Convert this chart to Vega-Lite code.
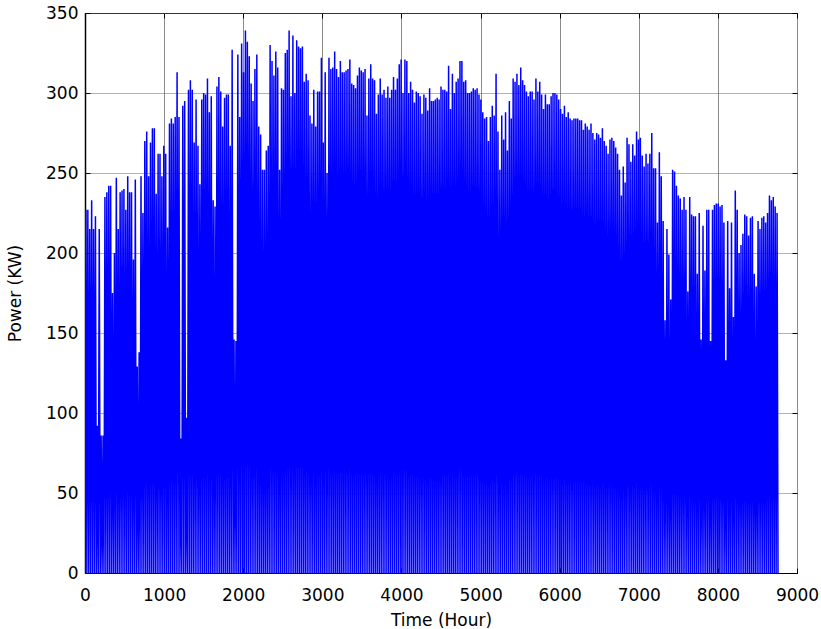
{
"$schema":"https://vega.github.io/schema/vega-lite/v6.json",
"width":712,"height":560,
"autosize":{"type":"none"},
"padding":{"left":85,"top":13,"right":24,"bottom":56},
"background":"white",
"config":{"view":{"stroke":"black","strokeWidth":1},"font":"DejaVu Sans",
"axis":{"labelFont":"DejaVu Sans","labelFontSize":17,"labelColor":"black","titleFont":"DejaVu Sans","titleFontSize":17,"titleFontWeight":"normal","titleColor":"black","tickColor":"black","domainColor":"black","zindex":1,"format":"d","labelFlush":false,"labelOverlap":false}},
"data":{"values":[
{"h":0,"p":0},{"h":12,"p":227},{"h":24,"p":0},{"h":36,"p":227},{"h":48,"p":0},{"h":60,"p":215},{"h":72,"p":0},{"h":84,"p":233},{"h":96,"p":0},{"h":108,"p":215},{"h":120,"p":0},{"h":132,"p":223},{"h":144,"p":0},{"h":156,"p":92},{"h":168,"p":0},{"h":180,"p":215},{"h":192,"p":0},{"h":204,"p":86},{"h":216,"p":0},{"h":228,"p":86},
{"h":240,"p":0},{"h":252,"p":235},{"h":264,"p":0},{"h":276,"p":238},{"h":288,"p":0},{"h":300,"p":242},{"h":312,"p":0},{"h":324,"p":242},{"h":336,"p":0},{"h":348,"p":175},{"h":360,"p":0},{"h":372,"p":200},{"h":384,"p":0},{"h":396,"p":247},{"h":408,"p":0},{"h":420,"p":215},{"h":432,"p":0},{"h":444,"p":238},{"h":456,"p":0},{"h":468,"p":239},
{"h":480,"p":0},{"h":492,"p":240},{"h":504,"p":0},{"h":516,"p":227},{"h":528,"p":0},{"h":540,"p":248},{"h":552,"p":0},{"h":564,"p":238},{"h":576,"p":0},{"h":588,"p":238},{"h":600,"p":0},{"h":612,"p":196},{"h":624,"p":0},{"h":636,"p":246},{"h":648,"p":0},{"h":660,"p":129},{"h":672,"p":0},{"h":684,"p":138},{"h":696,"p":0},{"h":708,"p":248},
{"h":720,"p":0},{"h":732,"p":225},{"h":744,"p":0},{"h":756,"p":270},{"h":768,"p":0},{"h":780,"p":276},{"h":792,"p":0},{"h":804,"p":248},{"h":816,"p":0},{"h":828,"p":269},{"h":840,"p":0},{"h":852,"p":278},{"h":864,"p":0},{"h":876,"p":278},{"h":888,"p":0},{"h":900,"p":237},{"h":912,"p":0},{"h":924,"p":262},{"h":936,"p":0},{"h":948,"p":262},
{"h":960,"p":0},{"h":972,"p":248},{"h":984,"p":0},{"h":996,"p":267},{"h":1008,"p":0},{"h":1020,"p":262},{"h":1032,"p":0},{"h":1044,"p":216},{"h":1056,"p":0},{"h":1068,"p":281},{"h":1080,"p":0},{"h":1092,"p":284},{"h":1104,"p":0},{"h":1116,"p":281},{"h":1128,"p":0},{"h":1140,"p":285},{"h":1152,"p":0},{"h":1164,"p":313},{"h":1176,"p":0},{"h":1188,"p":285},
{"h":1200,"p":0},{"h":1212,"p":84},{"h":1224,"p":0},{"h":1236,"p":292},{"h":1248,"p":0},{"h":1260,"p":295},{"h":1272,"p":0},{"h":1284,"p":97},{"h":1296,"p":0},{"h":1308,"p":302},{"h":1320,"p":0},{"h":1332,"p":308},{"h":1344,"p":0},{"h":1356,"p":302},{"h":1368,"p":0},{"h":1380,"p":269},{"h":1392,"p":0},{"h":1404,"p":296},{"h":1416,"p":0},{"h":1428,"p":267},
{"h":1440,"p":0},{"h":1452,"p":243},{"h":1464,"p":0},{"h":1476,"p":296},{"h":1488,"p":0},{"h":1500,"p":300},{"h":1512,"p":0},{"h":1524,"p":299},{"h":1536,"p":0},{"h":1548,"p":309},{"h":1560,"p":0},{"h":1572,"p":288},{"h":1584,"p":0},{"h":1596,"p":298},{"h":1608,"p":0},{"h":1620,"p":233},{"h":1632,"p":0},{"h":1644,"p":229},{"h":1656,"p":0},{"h":1668,"p":304},
{"h":1680,"p":0},{"h":1692,"p":310},{"h":1704,"p":0},{"h":1716,"p":301},{"h":1728,"p":0},{"h":1740,"p":279},{"h":1752,"p":0},{"h":1764,"p":297},{"h":1776,"p":0},{"h":1788,"p":299},{"h":1800,"p":0},{"h":1812,"p":299},{"h":1824,"p":0},{"h":1836,"p":267},{"h":1848,"p":0},{"h":1860,"p":327},{"h":1872,"p":0},{"h":1884,"p":146},{"h":1896,"p":0},{"h":1908,"p":145},
{"h":1920,"p":0},{"h":1932,"p":324},{"h":1944,"p":0},{"h":1956,"p":285},{"h":1968,"p":0},{"h":1980,"p":331},{"h":1992,"p":0},{"h":2004,"p":313},{"h":2016,"p":0},{"h":2028,"p":339},{"h":2040,"p":0},{"h":2052,"p":332},{"h":2064,"p":0},{"h":2076,"p":323},{"h":2088,"p":0},{"h":2100,"p":306},{"h":2112,"p":0},{"h":2124,"p":295},{"h":2136,"p":0},{"h":2148,"p":315},
{"h":2160,"p":0},{"h":2172,"p":324},{"h":2184,"p":0},{"h":2196,"p":279},{"h":2208,"p":0},{"h":2220,"p":274},{"h":2232,"p":0},{"h":2244,"p":252},{"h":2256,"p":0},{"h":2268,"p":252},{"h":2280,"p":0},{"h":2292,"p":264},{"h":2304,"p":0},{"h":2316,"p":267},{"h":2328,"p":0},{"h":2340,"p":330},{"h":2352,"p":0},{"h":2364,"p":320},{"h":2376,"p":0},{"h":2388,"p":311},
{"h":2400,"p":0},{"h":2412,"p":326},{"h":2424,"p":0},{"h":2436,"p":316},{"h":2448,"p":0},{"h":2460,"p":252},{"h":2472,"p":0},{"h":2484,"p":303},{"h":2496,"p":0},{"h":2508,"p":302},{"h":2520,"p":0},{"h":2532,"p":325},{"h":2544,"p":0},{"h":2556,"p":327},{"h":2568,"p":0},{"h":2580,"p":339},{"h":2592,"p":0},{"h":2604,"p":298},{"h":2616,"p":0},{"h":2628,"p":336},
{"h":2640,"p":0},{"h":2652,"p":300},{"h":2664,"p":0},{"h":2676,"p":333},{"h":2688,"p":0},{"h":2700,"p":329},{"h":2712,"p":0},{"h":2724,"p":328},{"h":2736,"p":0},{"h":2748,"p":329},{"h":2760,"p":0},{"h":2772,"p":307},{"h":2784,"p":0},{"h":2796,"p":312},{"h":2808,"p":0},{"h":2820,"p":308},{"h":2832,"p":0},{"h":2844,"p":286},{"h":2856,"p":0},{"h":2868,"p":281},
{"h":2880,"p":0},{"h":2892,"p":302},{"h":2904,"p":0},{"h":2916,"p":279},{"h":2928,"p":0},{"h":2940,"p":301},{"h":2952,"p":0},{"h":2964,"p":301},{"h":2976,"p":0},{"h":2988,"p":322},{"h":3000,"p":0},{"h":3012,"p":269},{"h":3024,"p":0},{"h":3036,"p":313},{"h":3048,"p":0},{"h":3060,"p":250},{"h":3072,"p":0},{"h":3084,"p":322},{"h":3096,"p":0},{"h":3108,"p":315},
{"h":3120,"p":0},{"h":3132,"p":316},{"h":3144,"p":0},{"h":3156,"p":326},{"h":3168,"p":0},{"h":3180,"p":315},{"h":3192,"p":0},{"h":3204,"p":310},{"h":3216,"p":0},{"h":3228,"p":320},{"h":3240,"p":0},{"h":3252,"p":313},{"h":3264,"p":0},{"h":3276,"p":313},{"h":3288,"p":0},{"h":3300,"p":314},{"h":3312,"p":0},{"h":3324,"p":315},{"h":3336,"p":0},{"h":3348,"p":321},
{"h":3360,"p":0},{"h":3372,"p":306},{"h":3384,"p":0},{"h":3396,"p":305},{"h":3408,"p":0},{"h":3420,"p":303},{"h":3432,"p":0},{"h":3444,"p":311},{"h":3456,"p":0},{"h":3468,"p":316},{"h":3480,"p":0},{"h":3492,"p":314},{"h":3504,"p":0},{"h":3516,"p":313},{"h":3528,"p":0},{"h":3540,"p":315},{"h":3552,"p":0},{"h":3564,"p":286},{"h":3576,"p":0},{"h":3588,"p":309},
{"h":3600,"p":0},{"h":3612,"p":318},{"h":3624,"p":0},{"h":3636,"p":309},{"h":3648,"p":0},{"h":3660,"p":308},{"h":3672,"p":0},{"h":3684,"p":287},{"h":3696,"p":0},{"h":3708,"p":299},{"h":3720,"p":0},{"h":3732,"p":309},{"h":3744,"p":0},{"h":3756,"p":299},{"h":3768,"p":0},{"h":3780,"p":302},{"h":3792,"p":0},{"h":3804,"p":297},{"h":3816,"p":0},{"h":3828,"p":304},
{"h":3840,"p":0},{"h":3852,"p":297},{"h":3864,"p":0},{"h":3876,"p":302},{"h":3888,"p":0},{"h":3900,"p":310},{"h":3912,"p":0},{"h":3924,"p":302},{"h":3936,"p":0},{"h":3948,"p":309},{"h":3960,"p":0},{"h":3972,"p":318},{"h":3984,"p":0},{"h":3996,"p":321},{"h":4008,"p":0},{"h":4020,"p":300},{"h":4032,"p":0},{"h":4044,"p":321},{"h":4056,"p":0},{"h":4068,"p":320},
{"h":4080,"p":0},{"h":4092,"p":300},{"h":4104,"p":0},{"h":4116,"p":307},{"h":4128,"p":0},{"h":4140,"p":302},{"h":4152,"p":0},{"h":4164,"p":294},{"h":4176,"p":0},{"h":4188,"p":301},{"h":4200,"p":0},{"h":4212,"p":300},{"h":4224,"p":0},{"h":4236,"p":298},{"h":4248,"p":0},{"h":4260,"p":287},{"h":4272,"p":0},{"h":4284,"p":299},{"h":4296,"p":0},{"h":4308,"p":297},
{"h":4320,"p":0},{"h":4332,"p":289},{"h":4344,"p":0},{"h":4356,"p":303},{"h":4368,"p":0},{"h":4380,"p":295},{"h":4392,"p":0},{"h":4404,"p":295},{"h":4416,"p":0},{"h":4428,"p":296},{"h":4440,"p":0},{"h":4452,"p":297},{"h":4464,"p":0},{"h":4476,"p":296},{"h":4488,"p":0},{"h":4500,"p":304},{"h":4512,"p":0},{"h":4524,"p":302},{"h":4536,"p":0},{"h":4548,"p":302},
{"h":4560,"p":0},{"h":4572,"p":301},{"h":4584,"p":0},{"h":4596,"p":317},{"h":4608,"p":0},{"h":4620,"p":290},{"h":4632,"p":0},{"h":4644,"p":312},{"h":4656,"p":0},{"h":4668,"p":300},{"h":4680,"p":0},{"h":4692,"p":307},{"h":4704,"p":0},{"h":4716,"p":309},{"h":4728,"p":0},{"h":4740,"p":320},{"h":4752,"p":0},{"h":4764,"p":320},{"h":4776,"p":0},{"h":4788,"p":307},
{"h":4800,"p":0},{"h":4812,"p":308},{"h":4824,"p":0},{"h":4836,"p":300},{"h":4848,"p":0},{"h":4860,"p":300},{"h":4872,"p":0},{"h":4884,"p":301},{"h":4896,"p":0},{"h":4908,"p":303},{"h":4920,"p":0},{"h":4932,"p":302},{"h":4944,"p":0},{"h":4956,"p":303},{"h":4968,"p":0},{"h":4980,"p":299},{"h":4992,"p":0},{"h":5004,"p":296},{"h":5016,"p":0},{"h":5028,"p":288},
{"h":5040,"p":0},{"h":5052,"p":284},{"h":5064,"p":0},{"h":5076,"p":285},{"h":5088,"p":0},{"h":5100,"p":270},{"h":5112,"p":0},{"h":5124,"p":285},{"h":5136,"p":0},{"h":5148,"p":292},{"h":5160,"p":0},{"h":5172,"p":286},{"h":5184,"p":0},{"h":5196,"p":312},{"h":5208,"p":0},{"h":5220,"p":276},{"h":5232,"p":0},{"h":5244,"p":252},{"h":5256,"p":0},{"h":5268,"p":286},
{"h":5280,"p":0},{"h":5292,"p":271},{"h":5304,"p":0},{"h":5316,"p":288},{"h":5328,"p":0},{"h":5340,"p":264},{"h":5352,"p":0},{"h":5364,"p":295},{"h":5376,"p":0},{"h":5388,"p":284},{"h":5400,"p":0},{"h":5412,"p":309},{"h":5424,"p":0},{"h":5436,"p":307},{"h":5448,"p":0},{"h":5460,"p":312},{"h":5472,"p":0},{"h":5484,"p":305},{"h":5496,"p":0},{"h":5508,"p":316},
{"h":5520,"p":0},{"h":5532,"p":308},{"h":5544,"p":0},{"h":5556,"p":305},{"h":5568,"p":0},{"h":5580,"p":301},{"h":5592,"p":0},{"h":5604,"p":298},{"h":5616,"p":0},{"h":5628,"p":301},{"h":5640,"p":0},{"h":5652,"p":301},{"h":5664,"p":0},{"h":5676,"p":296},{"h":5688,"p":0},{"h":5700,"p":309},{"h":5712,"p":0},{"h":5724,"p":301},{"h":5736,"p":0},{"h":5748,"p":307},
{"h":5760,"p":0},{"h":5772,"p":299},{"h":5784,"p":0},{"h":5796,"p":290},{"h":5808,"p":0},{"h":5820,"p":299},{"h":5832,"p":0},{"h":5844,"p":293},{"h":5856,"p":0},{"h":5868,"p":293},{"h":5880,"p":0},{"h":5892,"p":298},{"h":5904,"p":0},{"h":5916,"p":300},{"h":5928,"p":0},{"h":5940,"p":300},{"h":5952,"p":0},{"h":5964,"p":299},{"h":5976,"p":0},{"h":5988,"p":296},
{"h":6000,"p":0},{"h":6012,"p":290},{"h":6024,"p":0},{"h":6036,"p":287},{"h":6048,"p":0},{"h":6060,"p":292},{"h":6072,"p":0},{"h":6084,"p":285},{"h":6096,"p":0},{"h":6108,"p":288},{"h":6120,"p":0},{"h":6132,"p":284},{"h":6144,"p":0},{"h":6156,"p":283},{"h":6168,"p":0},{"h":6180,"p":284},{"h":6192,"p":0},{"h":6204,"p":284},{"h":6216,"p":0},{"h":6228,"p":284},
{"h":6240,"p":0},{"h":6252,"p":283},{"h":6264,"p":0},{"h":6276,"p":283},{"h":6288,"p":0},{"h":6300,"p":277},{"h":6312,"p":0},{"h":6324,"p":281},{"h":6336,"p":0},{"h":6348,"p":279},{"h":6360,"p":0},{"h":6372,"p":277},{"h":6384,"p":0},{"h":6396,"p":281},{"h":6408,"p":0},{"h":6420,"p":275},{"h":6432,"p":0},{"h":6444,"p":271},{"h":6456,"p":0},{"h":6468,"p":275},
{"h":6480,"p":0},{"h":6492,"p":274},{"h":6504,"p":0},{"h":6516,"p":272},{"h":6528,"p":0},{"h":6540,"p":278},{"h":6552,"p":0},{"h":6564,"p":270},{"h":6576,"p":0},{"h":6588,"p":267},{"h":6600,"p":0},{"h":6612,"p":262},{"h":6624,"p":0},{"h":6636,"p":271},{"h":6648,"p":0},{"h":6660,"p":272},{"h":6672,"p":0},{"h":6684,"p":270},{"h":6696,"p":0},{"h":6708,"p":266},
{"h":6720,"p":0},{"h":6732,"p":262},{"h":6744,"p":0},{"h":6756,"p":252},{"h":6768,"p":0},{"h":6780,"p":236},{"h":6792,"p":0},{"h":6804,"p":254},{"h":6816,"p":0},{"h":6828,"p":244},{"h":6840,"p":0},{"h":6852,"p":272},{"h":6864,"p":0},{"h":6876,"p":268},{"h":6888,"p":0},{"h":6900,"p":257},{"h":6912,"p":0},{"h":6924,"p":268},{"h":6936,"p":0},{"h":6948,"p":261},
{"h":6960,"p":0},{"h":6972,"p":276},{"h":6984,"p":0},{"h":6996,"p":271},{"h":7008,"p":0},{"h":7020,"p":272},{"h":7032,"p":0},{"h":7044,"p":261},{"h":7056,"p":0},{"h":7068,"p":254},{"h":7080,"p":0},{"h":7092,"p":262},{"h":7104,"p":0},{"h":7116,"p":256},{"h":7128,"p":0},{"h":7140,"p":262},{"h":7152,"p":0},{"h":7164,"p":275},{"h":7176,"p":0},{"h":7188,"p":253},
{"h":7200,"p":0},{"h":7212,"p":253},{"h":7224,"p":0},{"h":7236,"p":219},{"h":7248,"p":0},{"h":7260,"p":263},{"h":7272,"p":0},{"h":7284,"p":248},{"h":7296,"p":0},{"h":7308,"p":220},{"h":7320,"p":0},{"h":7332,"p":158},{"h":7344,"p":0},{"h":7356,"p":215},{"h":7368,"p":0},{"h":7380,"p":199},{"h":7392,"p":0},{"h":7404,"p":171},{"h":7416,"p":0},{"h":7428,"p":252},
{"h":7440,"p":0},{"h":7452,"p":251},{"h":7464,"p":0},{"h":7476,"p":242},{"h":7488,"p":0},{"h":7500,"p":236},{"h":7512,"p":0},{"h":7524,"p":234},{"h":7536,"p":0},{"h":7548,"p":227},{"h":7560,"p":0},{"h":7572,"p":235},{"h":7584,"p":0},{"h":7596,"p":227},{"h":7608,"p":0},{"h":7620,"p":176},{"h":7632,"p":0},{"h":7644,"p":235},{"h":7656,"p":0},{"h":7668,"p":224},
{"h":7680,"p":0},{"h":7692,"p":223},{"h":7704,"p":0},{"h":7716,"p":223},{"h":7728,"p":0},{"h":7740,"p":187},{"h":7752,"p":0},{"h":7764,"p":225},{"h":7776,"p":0},{"h":7788,"p":146},{"h":7800,"p":0},{"h":7812,"p":217},{"h":7824,"p":0},{"h":7836,"p":189},{"h":7848,"p":0},{"h":7860,"p":227},{"h":7872,"p":0},{"h":7884,"p":227},{"h":7896,"p":0},{"h":7908,"p":145},
{"h":7920,"p":0},{"h":7932,"p":227},{"h":7944,"p":0},{"h":7956,"p":230},{"h":7968,"p":0},{"h":7980,"p":231},{"h":7992,"p":0},{"h":8004,"p":231},{"h":8016,"p":0},{"h":8028,"p":229},{"h":8040,"p":0},{"h":8052,"p":230},{"h":8064,"p":0},{"h":8076,"p":219},{"h":8088,"p":0},{"h":8100,"p":133},{"h":8112,"p":0},{"h":8124,"p":220},{"h":8136,"p":0},{"h":8148,"p":178},
{"h":8160,"p":0},{"h":8172,"p":219},{"h":8184,"p":0},{"h":8196,"p":160},{"h":8208,"p":0},{"h":8220,"p":239},{"h":8232,"p":0},{"h":8244,"p":227},{"h":8256,"p":0},{"h":8268,"p":200},{"h":8280,"p":0},{"h":8292,"p":205},{"h":8304,"p":0},{"h":8316,"p":212},{"h":8328,"p":0},{"h":8340,"p":224},{"h":8352,"p":0},{"h":8364,"p":223},{"h":8376,"p":0},{"h":8388,"p":211},
{"h":8400,"p":0},{"h":8412,"p":222},{"h":8424,"p":0},{"h":8436,"p":223},{"h":8448,"p":0},{"h":8460,"p":187},{"h":8472,"p":0},{"h":8484,"p":179},{"h":8496,"p":0},{"h":8508,"p":220},{"h":8520,"p":0},{"h":8532,"p":215},{"h":8544,"p":0},{"h":8556,"p":222},{"h":8568,"p":0},{"h":8580,"p":223},{"h":8592,"p":0},{"h":8604,"p":219},{"h":8616,"p":0},{"h":8628,"p":225},
{"h":8640,"p":0},{"h":8652,"p":236},{"h":8664,"p":0},{"h":8676,"p":233},{"h":8688,"p":0},{"h":8700,"p":235},{"h":8712,"p":0},{"h":8724,"p":229},{"h":8736,"p":0},{"h":8748,"p":225},{"h":8760,"p":0}
]},
"layer":[
{"mark":{"type":"line","color":"#0000ff","strokeWidth":1.5,"clip":true},
"encoding":{
"x":{"field":"h","type":"quantitative","scale":{"domain":[0,9000],"nice":false,"zero":false},
"axis":{"orient":"bottom","values":[0,1000,2000,3000,4000,5000,6000,7000,8000,9000],"tickSize":-5,"labelPadding":19,"title":"Time (Hour)","titlePadding":9,"grid":true,"gridColor":"#8c8c8c","gridWidth":1,"domain":true,"domainWidth":1}},
"y":{"field":"p","type":"quantitative","scale":{"domain":[0,350],"nice":false},
"axis":{"orient":"left","values":[0,50,100,150,200,250,300,350],"tickSize":-5,"labelPadding":12,"title":"Power (KW)","titlePadding":21,"grid":true,"gridColor":"#666666","gridDash":[1,1],"gridWidth":1,"domain":true,"domainWidth":1.5}}}},
{"mark":{"type":"line","opacity":0},
"encoding":{
"x":{"field":"h","type":"quantitative","scale":{"domain":[0,9000],"nice":false,"zero":false},
"axis":{"orient":"top","values":[0,1000,2000,3000,4000,5000,6000,7000,8000,9000],"tickSize":-5,"labels":false,"title":null,"grid":false,"domain":false}},
"y":{"field":"p","type":"quantitative","scale":{"domain":[0,350],"nice":false},
"axis":{"orient":"right","values":[0,50,100,150,200,250,300,350],"tickSize":-5,"labels":false,"title":null,"grid":false,"domain":false}}}}
],
"resolve":{"axis":{"x":"independent","y":"independent"}}
}
